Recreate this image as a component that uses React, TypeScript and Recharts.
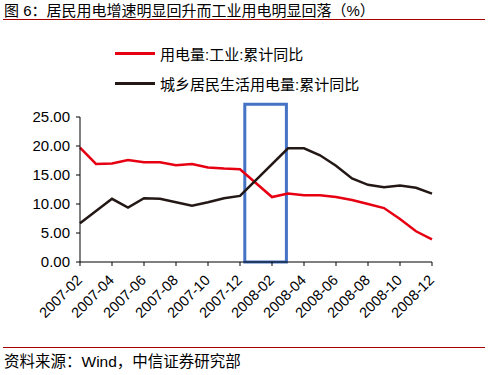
import React from 'react';
import { LineChart, Line, XAxis, YAxis, ReferenceArea } from 'recharts';

// months shown on the x axis (Jan 2008 has no separate reading)
const months = [
  '2007-02', '2007-03', '2007-04', '2007-05', '2007-06', '2007-07', '2007-08', '2007-09',
  '2007-10', '2007-11', '2007-12', '2008-01', '2008-02', '2008-03', '2008-04', '2008-05',
  '2008-06', '2008-07', '2008-08', '2008-09', '2008-10', '2008-11', '2008-12',
];

// 用电量:工业:累计同比
const industry = [
  19.7, 16.9, 17.0, 17.6, 17.2, 17.2, 16.7, 16.9, 16.3, 16.1, 16.0, null,
  11.2, 11.8, 11.5, 11.5, 11.2, 10.7, 10.0, 9.3, 7.4, 5.3, 3.9,
];

// 城乡居民生活用电量:累计同比
const residential = [
  6.7, 8.8, 10.9, 9.4, 11.0, 10.9, 10.3, 9.7, 10.3, 11.0, 11.4, null,
  null, 19.6, 19.6, 18.4, 16.6, 14.4, 13.3, 12.9, 13.2, 12.8, 11.8,
];

const yTicks = [0, 5, 10, 15, 20, 25];
const xTicks = months.map((_, i) => i).filter((i) => i % 2 === 0);

// highlighted window around the turn of 2008
const BOX_X1 = 10.3;
const BOX_X2 = 12.9;
const BOX_Y2 = 27.2;

const RED = '#E60012';
const BLACK = '#231815';
const FONT = 'Arial, "Liberation Sans", "Noto Sans CJK SC", sans-serif';

const legendItems = [
  { name: '用电量:工业:累计同比', color: RED },
  { name: '城乡居民生活用电量:累计同比', color: BLACK },
];

const data = months.map((m, i) => ({
  idx: i,
  month: m,
  industry: industry[i],
  residential: residential[i],
}));

const XTick = (props: any) => {
  const { x, y, payload } = props;
  const tx = x + 3;
  const ty = y + 13;
  return (
    <text
      x={tx}
      y={ty}
      transform={`rotate(-45, ${tx}, ${ty})`}
      textAnchor="end"
      fontSize={14.5}
      fontFamily={FONT}
      fill="#000"
    >
      {months[payload.value]}
    </text>
  );
};

export default function App() {
  return (
    <div style={{ position: 'absolute', left: 0, top: 0, width: 504, height: 375, background: '#fff', fontFamily: FONT }}>
      <div style={{ position: 'absolute', left: 4, top: 2, fontSize: 15, lineHeight: '18px', color: '#000', whiteSpace: 'nowrap' }}>
        图 6：居民用电增速明显回升而工业用电明显回落（%）
      </div>
      <div style={{ position: 'absolute', left: 3, top: 19, width: 482, height: 1, background: '#A50000' }} />

      <LineChart
        width={504}
        height={375}
        data={data}
        margin={{ top: 117, right: 72, bottom: 53, left: 0 }}
        style={{ position: 'absolute', left: 0, top: 0 }}
      >
        <XAxis
          dataKey="idx"
          type="number"
          domain={[0, months.length - 1]}
          ticks={xTicks}
          interval={0}
          height={60}
          tickSize={4}
          axisLine={{ stroke: '#000' }}
          tickLine={{ stroke: '#000' }}
          tick={<XTick />}
        />
        <YAxis
          domain={[0, 25]}
          ticks={yTicks}
          width={80}
          tickSize={4}
          tickMargin={6}
          axisLine={{ stroke: '#000' }}
          tickLine={{ stroke: '#000' }}
          tickFormatter={(v: number) => v.toFixed(2)}
          tick={{ fontSize: 15, fill: '#000', fontFamily: FONT }}
        />
        <Line
          dataKey="industry"
          stroke={RED}
          strokeWidth={2.5}
          dot={false}
          connectNulls
          isAnimationActive={false}
        />
        <Line
          dataKey="residential"
          stroke={BLACK}
          strokeWidth={2.5}
          dot={false}
          connectNulls
          isAnimationActive={false}
        />
        <ReferenceArea
          x1={BOX_X1}
          x2={BOX_X2}
          y1={0}
          y2={BOX_Y2}
          fill="none"
          fillOpacity={0}
          stroke="#4472C4"
          strokeWidth={3}
          ifOverflow="visible"
        />
      </LineChart>

      <div style={{ position: 'absolute', left: 115, top: 38, fontSize: 15, color: '#000' }}>
        {legendItems.map((item) => (
          <div key={item.name} style={{ display: 'flex', alignItems: 'center', height: 30, whiteSpace: 'nowrap' }}>
            <div style={{ width: 40, height: 3, background: item.color, marginRight: 5 }} />
            <span>{item.name}</span>
          </div>
        ))}
      </div>

      <div style={{ position: 'absolute', left: 3, top: 347, width: 482, height: 1, background: '#A50000' }} />
      <div style={{ position: 'absolute', left: 4, top: 353, fontSize: 15.5, lineHeight: '18px', color: '#000', whiteSpace: 'nowrap' }}>
        资料来源：Wind，中信证券研究部
      </div>
    </div>
  );
}
